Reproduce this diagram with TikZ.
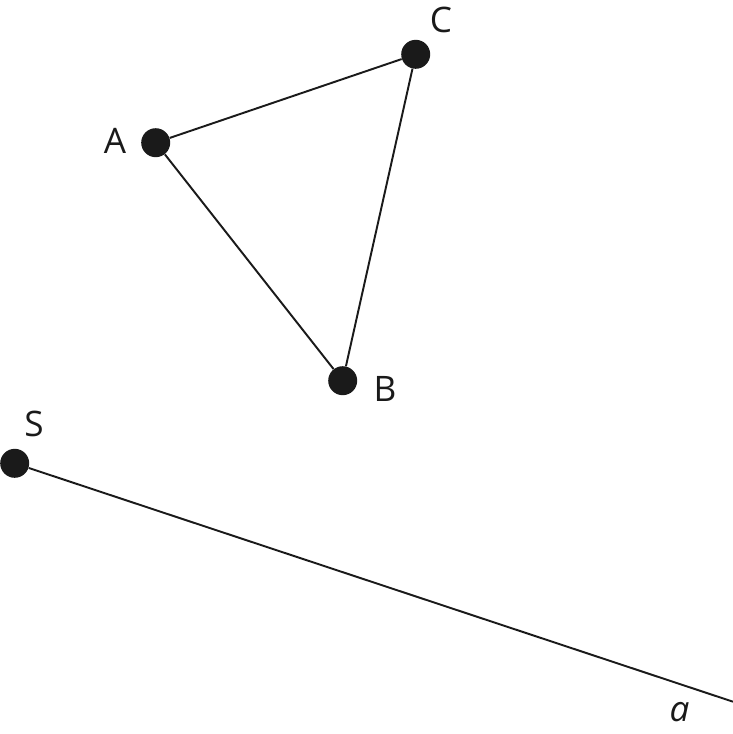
\documentclass[tikz,border=0pt]{standalone}
\usepackage{fontspec}
\setmainfont{Open Sans}
\definecolor{ink}{HTML}{1A1A1A}

\begin{document}
\begin{tikzpicture}[x=0.02cm,y=-0.02cm,
	dot/.style={circle,fill=ink,inner sep=0pt,minimum size=0.58cm},
	lbl/.style={text=ink,inner sep=0pt,font=\fontsize{20}{24}\selectfont}]
\useasboundingbox (0,0) rectangle (733,734);
\draw (155.7,142.7) node[dot] (A) {};
\draw (415.7,54.3) node[dot] (C) {};
\draw (342.7,380.7) node[dot] (B) {};
\draw (14.7,463.3) node[dot] (S) {};
\coordinate (aend) at (733,701.7);
\draw[ink,line width=1.1pt] (A) -- (C);
\draw[ink,line width=1.1pt] (C) -- (B);
\draw[ink,line width=1.1pt] (B) -- (A);
\draw[ink,line width=1.1pt] (S) -- (aend);
\draw (115,141) node[lbl] (lA) {A};
\draw (441,20) node[lbl] (lC) {C};
\draw (385,388.5) node[lbl] (lB) {B};
\draw (34,423.5) node[lbl] (lS) {S};
\draw (679.5,712.5) node[lbl] (la) {\itshape a};
\end{tikzpicture}
\end{document}
